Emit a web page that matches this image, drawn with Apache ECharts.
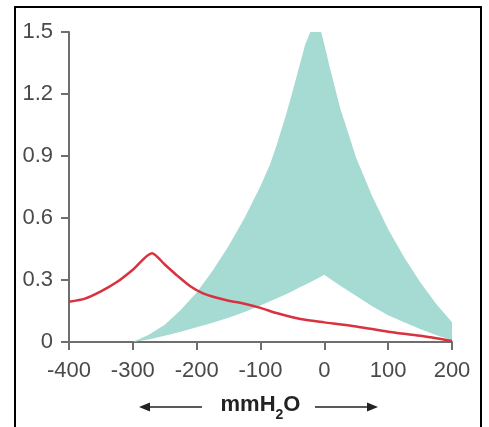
<!DOCTYPE html>
<html><head><meta charset="utf-8">
<script src="https://cdn.jsdelivr.net/npm/echarts@6/dist/echarts.min.js"></script>
<style>html,body{margin:0;padding:0;background:#fff}#c{width:489px;height:427px}</style>
</head><body><div id="c"></div>
<script>
// Shaded band (teal): x positions (mmH2O) with lower and upper bounds
const bandX = [-300,-275,-250,-225,-200,-175,-150,-125,-100,-85,-75,-60,-50,-40,-30,-22,-5,0,10,25,50,75,100,125,150,175,200];
const bandLower = [0,0.012,0.03,0.05,0.071,0.093,0.117,0.145,0.177,0.197,0.21,0.231,0.245,0.262,0.277,0.289,0.317,0.325,0.304,0.272,0.222,0.173,0.13,0.095,0.063,0.034,0.008];
const bandUpper = [0,0.035,0.083,0.155,0.24,0.345,0.465,0.6,0.755,0.86,0.95,1.1,1.21,1.325,1.44,1.5,1.5,1.44,1.31,1.13,0.89,0.705,0.545,0.41,0.29,0.185,0.095];
// Red curve
const redX = [-400,-375,-350,-325,-300,-270,-250,-230,-210,-190,-170,-150,-125,-100,-75,-50,-25,0,50,100,150,200];
const redY = [0.195,0.21,0.245,0.29,0.35,0.43,0.375,0.32,0.27,0.235,0.215,0.2,0.185,0.165,0.14,0.12,0.105,0.095,0.075,0.05,0.03,0.005];
// Axis ticks
const xTicks = [-400,-300,-200,-100,0,100,200];
const yTicks = [0,0.3,0.6,0.9,1.2,1.5];

const chart = echarts.init(document.getElementById('c'), null, {renderer:'canvas'});
const axisColor = '#6e6e6e';
const labelColor = '#4a4a4a';
const font = 'Liberation Sans, Arial, sans-serif';

const bandData = bandX.map((x, i) => [x, bandLower[i], bandUpper[i]]);

chart.setOption({
  animation: false,
  backgroundColor: '#ffffff',
  grid: {left: 69, right: 37, top: 32, bottom: 84, containLabel: false},
  xAxis: {
    type: 'value', min: xTicks[0], max: xTicks[xTicks.length-1], interval: 100,
    axisLine: {show: true, onZero: false, lineStyle: {color: axisColor, width: 2}},
    axisTick: {show: true, length: 8, lineStyle: {color: axisColor, width: 2}},
    axisLabel: {color: labelColor, fontSize: 22, fontFamily: font, margin: 18},
    splitLine: {show: false},
    name: '{t|mmH}{s|2}{t|O}',
    nameLocation: 'middle', nameGap: 50,
    nameTextStyle: {
      rich: {
        t: {fontSize: 22, fontWeight: 'bold', color: '#222', fontFamily: font, verticalAlign: 'bottom', lineHeight: 24},
        s: {fontSize: 14, fontWeight: 'bold', color: '#222', fontFamily: font, verticalAlign: 'bottom', lineHeight: 24, padding: [0,0,-6,0]}
      }
    }
  },
  yAxis: {
    type: 'value', min: 0, max: 1.5, interval: 0.3,
    axisLine: {show: true, onZero: false, lineStyle: {color: axisColor, width: 2}},
    axisTick: {show: true, length: 8, lineStyle: {color: axisColor, width: 2}},
    axisLabel: {color: labelColor, fontSize: 22, fontFamily: font, margin: 16,
      formatter: v => v === 0 ? '0' : v.toFixed(1)},
    splitLine: {show: false}
  },
  series: [
    {
      name: 'band', type: 'custom', silent: true, z: 1,
      data: bandData,
      encode: {x: 0, y: [1, 2]},
      renderItem: function (params, api) {
        if (params.dataIndex !== 0) return null;
        const upper = bandData.map(d => api.coord([d[0], d[2]]));
        const lower = bandData.slice().reverse().map(d => api.coord([d[0], d[1]]));
        return {
          type: 'polygon',
          shape: {points: upper.concat(lower)},
          style: {fill: '#a6dbd4', stroke: null}
        };
      }
    },
    {
      name: 'red', type: 'line', symbol: 'none', smooth: 0.25,
      data: redX.map((x, i) => [x, redY[i]]),
      lineStyle: {color: '#d8323f', width: 2.5}, z: 3
    }
  ],
  graphic: [
    {type: 'polyline', shape: {points: [[15, 440], [15, 7], [481, 7], [481, 440]]},
     style: {stroke: '#000', lineWidth: 2, fill: null}, silent: true},
    {type: 'line', shape: {x1: 146, y1: 407, x2: 202, y2: 407}, style: {stroke: '#222', lineWidth: 1.5}},
    {type: 'polygon', shape: {points: [[139, 407], [150, 402.5], [150, 411.5]]}, style: {fill: '#222'}},
    {type: 'line', shape: {x1: 315, y1: 407, x2: 371, y2: 407}, style: {stroke: '#222', lineWidth: 1.5}},
    {type: 'polygon', shape: {points: [[378, 407], [367, 402.5], [367, 411.5]]}, style: {fill: '#222'}}
  ]
});
</script>
</body></html>
